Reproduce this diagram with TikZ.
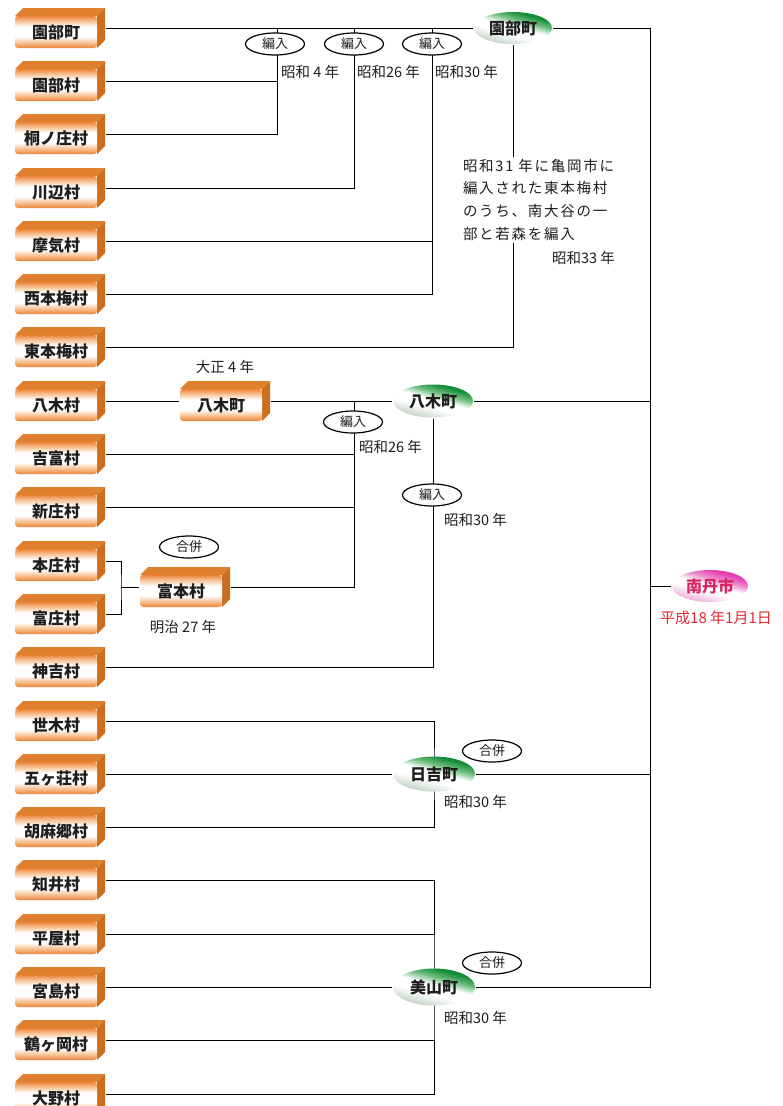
\documentclass[tikz,border=0pt]{standalone}
\usepackage{fontspec}
\setmainfont{Noto Sans CJK JP}
\newfontfamily\jpls[LetterSpace=12]{Noto Sans CJK JP}
\usetikzlibrary{shapes.geometric,calc}
\definecolor{bfront}{RGB}{236,130,55}
\definecolor{bfrontlt}{RGB}{246,190,140}
\definecolor{btop}{RGB}{222,128,45}
\definecolor{bside}{RGB}{205,110,30}
\definecolor{gdark}{RGB}{20,140,55}
\definecolor{gmid}{RGB}{110,190,125}
\definecolor{gbot}{RGB}{185,205,190}
\definecolor{pdark}{RGB}{228,60,175}
\definecolor{pmid}{RGB}{238,140,205}
\definecolor{pbot}{RGB}{236,160,210}
\definecolor{ptext}{RGB}{215,35,95}
\definecolor{rtext}{RGB}{230,40,50}
\definecolor{txt}{RGB}{30,30,30}
\pgfdeclareverticalshading{boxsh}{100bp}{color(0bp)=(bfront); color(25bp)=(bfront); color(33bp)=(bfrontlt); color(43bp)=(white); color(58bp)=(white); color(68bp)=(bfrontlt); color(75bp)=(bfront); color(100bp)=(bfront)}
\pgfdeclareverticalshading{grsh}{100bp}{color(0bp)=(gbot); color(25bp)=(gbot); color(42bp)=(white); color(52bp)=(white); color(61bp)=(gmid); color(70bp)=(gdark); color(100bp)=(gdark)}
\pgfdeclareverticalshading{pksh}{100bp}{color(0bp)=(pbot); color(25bp)=(pbot); color(43bp)=(white); color(51bp)=(white); color(60bp)=(pmid); color(70bp)=(pdark); color(100bp)=(pdark)}
\pgfdeclarelayer{bg}
\pgfsetlayers{bg,main}
\begin{document}
\begin{tikzpicture}[x=1pt,y=-1pt,line width=2pt,
  mura/.style={minimum width=90pt,minimum height=40pt,inner sep=0pt,fill=white,
    text height=20pt,text depth=0pt,text=txt,font=\bfseries\fontsize{16}{16}\selectfont,
    path picture={
      \fill[btop] ([yshift=-8pt]path picture bounding box.north west) -- ([xshift=8pt]path picture bounding box.north west)
        -- (path picture bounding box.north east) -- ([shift={(-8pt,-8pt)}]path picture bounding box.north east) -- cycle;
      \fill[bside] ([shift={(-8pt,-8pt)}]path picture bounding box.north east) -- (path picture bounding box.north east)
        -- ([yshift=8pt]path picture bounding box.south east) -- ([xshift=-8pt]path picture bounding box.south east) -- cycle;
      \shade[shading=boxsh,rounded corners=3pt]
        (path picture bounding box.south west) rectangle ([shift={(-8pt,-8pt)}]path picture bounding box.north east);
    }},
  gell/.style={ellipse,minimum width=80pt,minimum height=33pt,inner sep=0pt,
    shading=grsh,shading angle=-15,
    text=txt,font=\bfseries\fontsize{16}{16}\selectfont},
  pell/.style={ellipse,minimum width=76pt,minimum height=32pt,inner sep=0pt,
    shading=pksh,shading angle=-15,
    text=ptext,font=\bfseries\fontsize{16}{16}\selectfont},
  tag/.style={ellipse,draw=black,line width=1.2pt,fill=white,minimum width=59pt,minimum height=22pt,
    inner sep=0pt,text=txt,font=\fontsize{13}{13}\selectfont},
  yr/.style={anchor=west,inner sep=0pt,text=txt,font=\fontsize{14.5}{14.5}\selectfont},
  yrc/.style={inner sep=0pt,text=txt,font=\fontsize{14.5}{14.5}\selectfont}
]
\useasboundingbox (0,0) rectangle (782,1106);

\foreach \t/\y [count=\i] in {園部町/28,園部村/81,桐ノ庄村/134,川辺村/188,摩気村/241,西本梅村/294,東本梅村/347,八木村/401,吉富村/454,新庄村/507,本庄村/561,富庄村/614,神吉村/667,世木村/721,五ヶ荘村/774,胡麻郷村/827,知井村/880,平屋村/934,宮島村/987,鶴ヶ岡村/1040,大野村/1094}
  \node[mura] (b\i) at (60,\y) {\kern-8pt\t};

\node[mura] (yagiB) at (225,401) {\kern-8pt 八木町};
\node[mura] (tomi) at (185,587) {\kern-8pt 富本村};

\node[gell,minimum width=78pt,minimum height=32pt] (sonobeE) at (513,28) {園部町};
\node[gell] (yagiE) at (433,401) {八木町};
\node[gell,minimum width=82pt,minimum height=35pt] (hiyoshiE) at (434,774) {日吉町};
\node[gell,minimum width=82pt,minimum height=37pt] (miyamaE) at (434,987) {美山町};
\node[pell] (nantan) at (710,586) {南丹市};

\node[tag] (h1) at (275,44) {編入};
\node[tag] (h2) at (354,44) {編入};
\node[tag] (h3) at (432,44) {編入};
\node[tag] (h4) at (353,422) {編入};
\node[tag] (h5) at (432,495) {編入};
\node[tag] (g1) at (189,547) {合併};
\node[tag] (g2) at (492,751) {合併};
\node[tag] (g3) at (492,963) {合併};

\node[yr] (y1) at (280,72) {昭和 4 年};
\node[yr] (y2) at (356,72) {昭和26 年};
\node[yr] (y3) at (434,72) {昭和30 年};
\node[anchor=north west,fill=white,inner sep=2pt,align=left,text=txt,
  font=\jpls\fontsize{14.5}{22.7}\selectfont] (note) at (460,156)
  {昭和31 年に亀岡市に\\編入された東本梅村\\のうち、南大谷の一\\部と若森を編入};
\node[yr] (y4) at (551,258) {昭和33 年};
\node[yrc] (y5) at (225,367) {大正 4 年};
\node[yr] (y6) at (358,447) {昭和26 年};
\node[yr] (y7) at (443,520) {昭和30 年};
\node[yrc] (y8) at (183,627) {明治 27 年};
\node[yr] (y9) at (443,802) {昭和30 年};
\node[yr] (y10) at (443,1018) {昭和30 年};
\node[inner sep=0pt,text=rtext,font=\fontsize{15}{15}\selectfont] (y11) at (716,618) {平成18 年1月1日};

\coordinate (v1) at (277,28);
\coordinate (v2) at (354,28);
\coordinate (v3) at (432,28);
\coordinate (v4) at (354,401);
\coordinate (brk) at (121,587);
\coordinate (tb) at (650,987);

\begin{pgfonlayer}{bg}
\draw (b1.east) -- (sonobeE.west);
\draw (sonobeE.east) -| (tb) -- (miyamaE.east);
\draw (b2.east) -| (v1);
\draw (b3.east) -| (v1);
\draw (b4.east) -| (v2);
\draw (b5.east) -| (v3);
\draw (b6.east) -| (v3);
\draw (b7.east) -| (sonobeE.south);
\draw (b8.east) -- (yagiB.west);
\draw (yagiB.east) -- (yagiE.west);
\draw (yagiE.east) -- (yagiE.east -| tb);
\draw (b9.east) -| (v4);
\draw (b10.east) -| (v4);
\draw (tomi.east) -| (v4);
\draw (b11.east) -| (brk) |- (b12.east);
\draw (brk) -- (tomi.west);
\draw (b13.east) -| (yagiE.south);
\draw (b14.east) -| (hiyoshiE.center) |- (b16.east);
\draw (b15.east) -- (hiyoshiE.west);
\draw (hiyoshiE.east) -- (hiyoshiE.east -| tb);
\draw (b17.east) -| (miyamaE.center) |- (b21.east);
\draw (b18.east) -- (b18.east -| miyamaE.center);
\draw (b19.east) -- (miyamaE.west);
\draw (b20.east) -- (b20.east -| miyamaE.center);
\draw (nantan.west) -- (nantan.west -| tb);
\end{pgfonlayer}
\end{tikzpicture}
\end{document}
